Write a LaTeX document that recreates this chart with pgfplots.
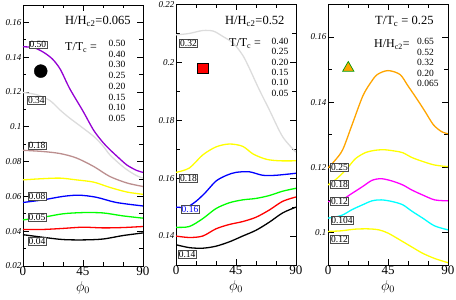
\documentclass[border=0pt]{standalone}
\usepackage{pgfplots}
\pgfplotsset{compat=1.18}
\usepackage{fontspec}
\setmainfont{Liberation Serif}
\definecolor{cviolet}{RGB}{148,0,211}
\definecolor{cgray}{RGB}{220,220,220}
\definecolor{cbrown}{RGB}{188,143,143}
\definecolor{cyel}{RGB}{255,255,0}
\definecolor{cblue}{RGB}{0,0,255}
\definecolor{cgreen}{RGB}{0,255,0}
\definecolor{cred}{RGB}{255,0,0}
\definecolor{corange}{RGB}{255,165,0}
\definecolor{cmag}{RGB}{255,0,255}
\definecolor{ccyan}{RGB}{0,255,255}
\tikzset{lab/.style={draw=black!70, fill=white, line width=0.4pt, inner sep=0.6pt, font=\fontsize{9.5}{10}\selectfont}}
\pgfplotsset{
  panel/.style={
    scale only axis, width=120pt,
    xmin=0, xmax=90, xtick={0,45,90}, minor x tick num=2,
    tick align=inside, major tick length=6pt, minor tick length=3.5pt,
    axis line style={line width=0.6pt}, every tick/.style={black, line width=0.6pt},
    /pgf/number format/assume math mode=true,
    /pgf/number format/fixed, /pgf/number format/precision=2,
    yticklabel style={font=\fontsize{9}{10}\selectfont\itshape, inner sep=1.5pt},
    xticklabel style={font=\fontsize{13}{14}\selectfont, inner sep=1pt},
    xlabel={$\phi_0$}, xlabel style={font=\fontsize{14}{15}\selectfont, inner sep=1pt, yshift=-3pt},
    clip=true,
  },
  ln/.style={line width=1.3pt, smooth, mark=none},
}
\begin{document}
\begin{tikzpicture}
\path[use as bounding box] (0,0) rectangle (456pt,300pt);
% ---------- panel 1 ----------
\begin{axis}[panel, at={(23pt,34pt)}, anchor=south west, height=261pt,
  ymin=0.02, ymax=0.17, ytick={0.02,0.04,0.06,0.08,0.1,0.12,0.14,0.16}, minor y tick num=1]
\addplot[ln, cviolet] coordinates {(0,0.146)(8,0.1455)(15,0.143)(22,0.139)(28,0.133)(35,0.122)(45,0.109)(53,0.098)(60,0.091)(65,0.087)(72,0.082)(78,0.078)(85,0.075)(90,0.0738)};
\addplot[ln, cgray] coordinates {(0,0.1197)(10,0.1185)(20,0.1152)(28,0.1095)(35,0.105)(42,0.101)(53,0.0945)(60,0.089)(65,0.084)(72,0.079)(78,0.0753)(85,0.072)(90,0.0705)};
\addplot[ln, cbrown] coordinates {(0,0.0865)(15,0.0858)(28,0.0846)(40,0.0821)(53,0.0772)(65,0.0715)(78,0.0677)(90,0.0657)};
\addplot[ln, cyel] coordinates {(0,0.0695)(15,0.0702)(28,0.0705)(40,0.0695)(53,0.0682)(65,0.0652)(78,0.0625)(90,0.0612)};
\addplot[ln, cblue] coordinates {(0,0.0565)(15,0.058)(30,0.060)(42,0.0607)(55,0.0595)(70,0.0565)(90,0.0545)};
\addplot[ln, cgreen] coordinates {(0,0.0465)(15,0.048)(30,0.050)(45,0.0507)(60,0.0505)(75,0.0488)(90,0.0475)};
\addplot[ln, cred] coordinates {(0,0.0410)(15,0.0410)(30,0.0416)(45,0.0423)(60,0.0419)(75,0.0421)(90,0.0427)};
\addplot[ln, black] coordinates {(0,0.038)(15,0.0365)(30,0.0352)(45,0.035)(60,0.0355)(75,0.0375)(90,0.039)};
\addplot[only marks, mark=*, mark size=6.5pt, mark options={fill=black, draw=black, line width=0.4pt}] coordinates {(13.3,0.132)};
\node[lab] at (axis cs:11.2,0.1471) {0.50};
\node[lab] at (axis cs:10,0.1151) {0.34};
\node[lab] at (axis cs:10.5,0.0892) {0.18};
\node[lab] at (axis cs:10.5,0.0601) {0.08};
\node[lab] at (axis cs:10.5,0.0480) {0.05};
\node[lab] at (axis cs:10.5,0.0344) {0.04};
\end{axis}
% ---------- panel 2 ----------
\begin{axis}[panel, at={(176pt,35pt)}, anchor=south west, height=260.5pt,
  ymin=0.13, ymax=0.22, ytick={0.14,0.16,0.18,0.2,0.22}, minor y tick num=1]
\addplot[ln, cgray] coordinates {(0,0.2095)(10,0.210)(20,0.211)(28,0.2108)(35,0.209)(43,0.2066)(50,0.2025)(55,0.198)(62,0.191)(70,0.1836)(80,0.1743)(90,0.169)};
\addplot[ln, cyel] coordinates {(0,0.162)(10,0.1635)(20,0.168)(30,0.1708)(40,0.1718)(50,0.171)(58,0.1683)(68,0.1665)(78,0.166)(90,0.166)};
\addplot[ln, cblue] coordinates {(0,0.150)(8,0.150)(15,0.152)(22,0.155)(30,0.159)(38,0.161)(45,0.162)(55,0.1622)(65,0.161)(75,0.161)(90,0.1617)};
\addplot[ln, cgreen] coordinates {(0,0.143)(10,0.1433)(20,0.146)(30,0.1495)(40,0.1515)(50,0.1525)(60,0.153)(70,0.154)(80,0.1555)(90,0.1565)};
\addplot[ln, cred] coordinates {(0,0.140)(10,0.1395)(20,0.140)(30,0.1425)(40,0.144)(50,0.145)(60,0.1465)(70,0.149)(80,0.152)(90,0.1535)};
\addplot[ln, black] coordinates {(0,0.137)(10,0.136)(20,0.1358)(30,0.1365)(40,0.138)(50,0.140)(60,0.142)(70,0.1448)(80,0.148)(90,0.150)};
\addplot[only marks, mark=square*, mark size=5.3pt, mark options={fill=cred, draw=black, line width=0.5pt}] coordinates {(20,0.198)};
\node[lab] at (axis cs:9.4,0.2067) {0.32};
\node[lab] at (axis cs:9.4,0.1599) {0.18};
\node[lab, text=cblue] at (axis cs:10.5,0.1492) {0.16};
\node[lab] at (axis cs:8.3,0.1338) {0.14};
\end{axis}
% ---------- panel 3 ----------
\begin{axis}[panel, at={(328pt,35pt)}, anchor=south west, height=260.5pt,
  ymin=0.09, ymax=0.17, ytick={0.1,0.12,0.14,0.16}, minor y tick num=1]
\addplot[ln, corange] coordinates {(0,0.1198)(5,0.122)(11,0.1254)(18,0.133)(26,0.1418)(32,0.146)(37,0.1485)(45,0.1497)(54,0.1485)(60,0.145)(67,0.1408)(73,0.137)(79,0.1331)(85,0.131)(90,0.1303)};
\addplot[ln, cyel] coordinates {(0,0.1146)(5,0.116)(11,0.1182)(16,0.1205)(21,0.1228)(28,0.1245)(35,0.1252)(42,0.1254)(50,0.125)(56,0.1245)(63,0.123)(71,0.1218)(80,0.1207)(90,0.1202)};
\addplot[ln, cmag] coordinates {(0,0.1095)(10,0.110)(18,0.112)(26,0.1141)(33,0.116)(40,0.1165)(48,0.1158)(56,0.1146)(63,0.113)(71,0.1115)(80,0.110)(90,0.1097)};
\addplot[ln, ccyan] coordinates {(0,0.1044)(10,0.1052)(18,0.107)(26,0.1085)(33,0.1097)(40,0.110)(48,0.1095)(56,0.1085)(63,0.1065)(71,0.1044)(80,0.102)(90,0.1008)};
\addplot[ln, cyel] coordinates {(0,0.1003)(10,0.1005)(20,0.101)(30,0.1011)(38,0.1008)(45,0.0998)(56,0.0972)(63,0.0955)(71,0.0936)(80,0.092)(90,0.0907)};
\addplot[only marks, mark=triangle*, mark size=6.5pt, mark options={fill=corange, draw=green!60!black, line width=0.7pt}] coordinates {(15.2,0.1505)};
\node[lab] at (axis cs:8.6,0.120) {0.25};
\node[lab] at (axis cs:8.6,0.1148) {0.18};
\node[lab] at (axis cs:8.6,0.1095) {0.12};
\node[lab] at (axis cs:10.5,0.1037) {0.104};
\node[lab] at (axis cs:8.6,0.098) {0.12};
\end{axis}
% ---------- annotations ----------
\begin{scope}[every node/.style={inner sep=0pt}]
\node[anchor=base west, font=\fontsize{12.5}{14}\selectfont] at (65pt,300pt-25pt) {H/H\textsubscript{c2}=0.065};
\node[anchor=base west, font=\fontsize{12}{14}\selectfont] at (65pt,300pt-51pt) {T/T\textsubscript{c} =};
\node[anchor=north west, align=left, font=\fontsize{9.5}{10.7}\selectfont] at (108.5pt,300pt-40pt) {0.50\\0.40\\0.30\\0.25\\0.20\\0.15\\0.10\\0.05};
\node[anchor=base west, font=\fontsize{12.5}{14}\selectfont] at (225pt,300pt-25pt) {H/H\textsubscript{c2}=0.52};
\node[anchor=base west, font=\fontsize{12}{14}\selectfont] at (229pt,300pt-47pt) {T/T\textsubscript{c} =};
\node[anchor=north west, align=left, font=\fontsize{9.5}{10.3}\selectfont] at (271.5pt,300pt-38pt) {0.40\\0.25\\0.20\\0.15\\0.10\\0.05};
\node[anchor=base west, font=\fontsize{12.5}{14}\selectfont] at (375pt,300pt-25pt) {T/T\textsubscript{c} = 0.25};
\node[anchor=base west, font=\fontsize{12}{14}\selectfont] at (374pt,300pt-48pt) {H/H\textsubscript{c2}=};
\node[anchor=north west, align=left, font=\fontsize{9.5}{10.5}\selectfont] at (417pt,300pt-38pt) {0.65\\0.52\\0.32\\0.20\\0.065};
\end{scope}
\end{tikzpicture}
\end{document}
